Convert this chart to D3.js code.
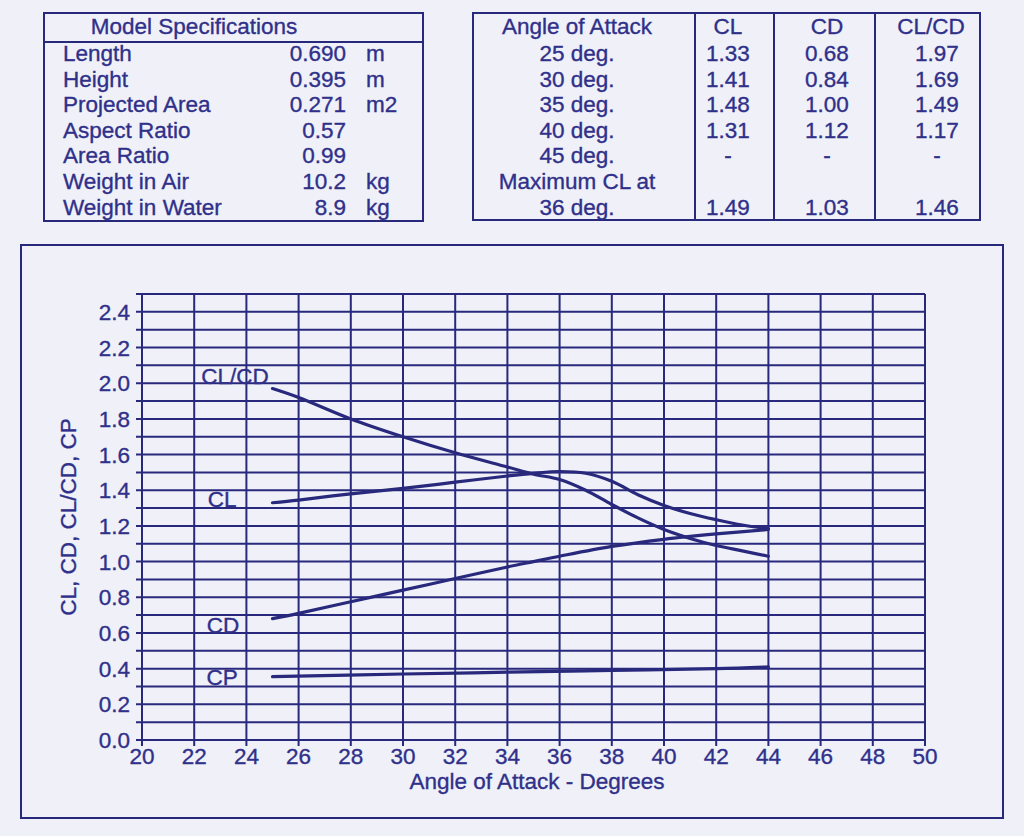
<!DOCTYPE html>
<html><head><meta charset="utf-8">
<script src="https://cdn.jsdelivr.net/npm/d3@7"></script>
<style>
html,body{margin:0;padding:0;background:#eff0f8;}
svg{display:block;}
text{font-family:"Liberation Sans",Arial,Helvetica,sans-serif;fill:#30308a;stroke:#30308a;stroke-width:0.35px;}
</style></head>
<body>
<svg id="c" width="1024" height="836"></svg>
<script>
// ---- Data ----
const specLabels = ["Length","Height","Projected Area","Aspect Ratio","Area Ratio","Weight in Air","Weight in Water"];
const specValues = ["0.690","0.395","0.271","0.57","0.99","10.2","8.9"];
const specUnits  = ["m","m","m2","","","kg","kg"];

const aoaHeaders = ["Angle of Attack","CL","CD","CL/CD"];
const aoaRows    = ["25 deg.","30 deg.","35 deg.","40 deg.","45 deg.","Maximum CL at","36 deg."];
const aoaCL      = ["1.33","1.41","1.48","1.31","-","","1.49"];
const aoaCD      = ["0.68","0.84","1.00","1.12","-","","1.03"];
const aoaCLCD    = ["1.97","1.69","1.49","1.17","-","","1.46"];

const clAngles   = [25,26,28,30,32,34,35,36,37,38,39,40,41,42,43,44];
const clValues   = [1.33,1.345,1.38,1.41,1.445,1.48,1.495,1.505,1.495,1.45,1.375,1.315,1.27,1.235,1.205,1.185];
const clcdAngles = [25,26,28,30,32,34,35,36,37,38,39,40,41,42,43,44];
const clcdValues = [1.97,1.92,1.80,1.70,1.61,1.53,1.49,1.46,1.40,1.32,1.245,1.18,1.13,1.09,1.06,1.03];
const cdAngles   = [25,26,28,30,32,34,35,36,38,40,42,44];
const cdValues   = [0.68,0.71,0.775,0.84,0.905,0.97,1.00,1.03,1.085,1.125,1.155,1.18];
const cpAngles   = [25,30,34,38,42,44];
const cpValues   = [0.355,0.37,0.38,0.39,0.40,0.41];

const seriesLabels = ["CL/CD","CL","CD","CP"];
const xTicks = [20,22,24,26,28,30,32,34,36,38,40,42,44,46,48,50];
const yTicks = [0.0,0.2,0.4,0.6,0.8,1.0,1.2,1.4,1.6,1.8,2.0,2.2,2.4];
const yGrid  = d3.range(0,26).map(i=>i/10);

// ---- Drawing ----
const INK = "#28287c";
const FS = 22.5;
const svg = d3.select("#c");

// Left table
const lt = svg.append("g");
lt.append("rect").attr("x",44).attr("y",13).attr("width",379).attr("height",208)
  .attr("fill","none").attr("stroke",INK).attr("stroke-width",2);
lt.append("line").attr("x1",44).attr("x2",423).attr("y1",42).attr("y2",42).attr("stroke",INK).attr("stroke-width",2);
lt.append("text").attr("x",194).attr("y",34).attr("text-anchor","middle").attr("font-size",FS).text("Model Specifications");
const rowY = i => 61 + i*25.6;
specLabels.forEach((d,i)=>{
  lt.append("text").attr("x",63).attr("y",rowY(i)).attr("font-size",FS).text(d);
  lt.append("text").attr("x",346).attr("y",rowY(i)).attr("text-anchor","end").attr("font-size",FS).text(specValues[i]);
  lt.append("text").attr("x",366).attr("y",rowY(i)).attr("font-size",FS).text(specUnits[i]);
});

// Right table
const rt = svg.append("g");
rt.append("rect").attr("x",473).attr("y",13).attr("width",507).attr("height",207)
  .attr("fill","none").attr("stroke",INK).attr("stroke-width",2);
[695,774,875].forEach(xx=>rt.append("line").attr("x1",xx).attr("x2",xx).attr("y1",13).attr("y2",220).attr("stroke",INK).attr("stroke-width",2));
const hdrX = [577,728,827,931];
aoaHeaders.forEach((h,i)=>rt.append("text").attr("x",hdrX[i]).attr("y",34).attr("text-anchor","middle").attr("font-size",FS).text(h));
const colX = [577,728,827,937];
aoaRows.forEach((r,i)=>{
  [r,aoaCL[i],aoaCD[i],aoaCLCD[i]].forEach((v,j)=>{
    rt.append("text").attr("x",colX[j]).attr("y",rowY(i)).attr("text-anchor","middle").attr("font-size",FS).text(v);
  });
});

// Chart frame
svg.append("rect").attr("x",21).attr("y",245).attr("width",982).attr("height",573)
  .attr("fill","none").attr("stroke",INK).attr("stroke-width",2);

const x = d3.scaleLinear().domain([20,50]).range([142,925]);
const y = d3.scaleLinear().domain([0,2.5]).range([740,294]);

const grid = svg.append("g").attr("stroke",INK).attr("stroke-width",2);
grid.selectAll("line.h").data(yGrid).join("line").attr("class","h")
  .attr("x1",x(20)-6).attr("x2",x(50)).attr("y1",d=>y(d)).attr("y2",d=>y(d));
grid.selectAll("line.v").data(xTicks).join("line").attr("class","v")
  .attr("x1",d=>x(d)).attr("x2",d=>x(d)).attr("y1",y(2.5)).attr("y2",y(0)+6);

svg.append("g").selectAll("text").data(yTicks).join("text")
  .attr("x",x(20)-12).attr("y",d=>y(d)+8).attr("text-anchor","end").attr("font-size",FS)
  .text(d=>d3.format(".1f")(d));
svg.append("g").selectAll("text").data(xTicks).join("text")
  .attr("x",d=>x(d)).attr("y",y(0)+24).attr("text-anchor","middle").attr("font-size",FS)
  .text(d=>d);

svg.append("text").attr("x",537).attr("y",789).attr("text-anchor","middle").attr("font-size",FS)
  .text("Angle of Attack - Degrees");
svg.append("text").attr("transform","translate(76,517) rotate(-90)").attr("text-anchor","middle").attr("font-size",FS)
  .text("CL, CD, CL/CD, CP");

// Curves
const line = d3.line().x(d=>x(d[0])).y(d=>y(d[1])).curve(d3.curveCatmullRom.alpha(0.5));
const series = [
  d3.zip(clcdAngles,clcdValues),
  d3.zip(clAngles,clValues),
  d3.zip(cdAngles,cdValues),
  d3.zip(cpAngles,cpValues)
];
svg.append("g").selectAll("path").data(series).join("path")
  .attr("d",line).attr("fill","none").attr("stroke",INK).attr("stroke-width",3.2).attr("stroke-linecap","round");

// Curve labels (centre of text, in data units)
const labelPos = [[23.56,2.04],[23.07,1.35],[23.1,0.645],[23.07,0.353]];
svg.append("g").selectAll("text").data(seriesLabels).join("text")
  .attr("x",(d,i)=>x(labelPos[i][0])).attr("y",(d,i)=>y(labelPos[i][1])+8)
  .attr("text-anchor","middle").attr("font-size",FS).text(d=>d);
</script>
</body></html>
